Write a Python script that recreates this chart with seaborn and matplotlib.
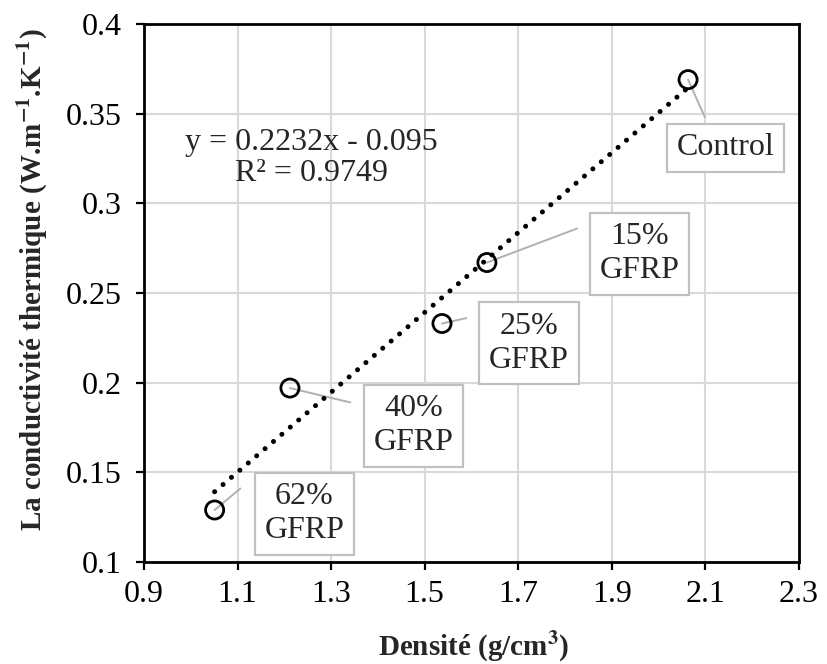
import numpy as np
import pandas as pd
import matplotlib
matplotlib.use("Agg")
import matplotlib.pyplot as plt
import seaborn as sns

# ---- data ----
labels = ["62%\nGFRP", "40%\nGFRP", "25%\nGFRP", "15%\nGFRP", "Control"]
density = [1.051, 1.212, 1.537, 1.633, 2.063]
conductivity = [0.129, 0.197, 0.233, 0.267, 0.369]
# label box centres and leader-line ends (data coords)
label_x = [1.243, 1.477, 1.723, 1.960, 2.144]
label_y = [0.127, 0.176, 0.222, 0.272, 0.331]
lead_x = [1.106, 1.341, 1.589, 1.826, 2.099]
lead_y = [0.141, 0.189, 0.236, 0.286, 0.348]
x_ticks = [0.9, 1.1, 1.3, 1.5, 1.7, 1.9, 2.1, 2.3]
y_ticks = [0.1, 0.15, 0.2, 0.25, 0.3, 0.35, 0.4]
x_tick_labels = ["0.9", "1.1", "1.3", "1.5", "1.7", "1.9", "2.1", "2.3"]
y_tick_labels = ["0.1", "0.15", "0.2", "0.25", "0.3", "0.35", "0.4"]
equation = "y = 0.2232x - 0.095\nR\u00b2 = 0.9749"

df = pd.DataFrame({"density": density, "k": conductivity, "label": labels})

sns.set_theme(style="white")
plt.rcParams["font.family"] = ["Liberation Serif", "DejaVu Serif"]
plt.rcParams["mathtext.fontset"] = "stix"

fig = plt.figure(figsize=(8.28, 6.64), dpi=100)
ax = fig.add_axes([0.1739, 0.1536, 0.791, 0.8102])

# trend line
sns.regplot(data=df, x="density", y="k", ax=ax, scatter=False, ci=None,
            truncate=True,
            line_kws=dict(color="black", lw=3.6, linestyle=(0, (0.01, 2.2)),
                          dash_capstyle="round", zorder=3))

# leader lines
for px, py, lx, ly in zip(density, conductivity, lead_x, lead_y):
    ax.annotate("", xy=(px, py), xytext=(lx, ly),
                arrowprops=dict(arrowstyle="-", color="#b0b0b0", lw=1.4,
                                shrinkA=0, shrinkB=0), zorder=2)

# points
sns.scatterplot(data=df, x="density", y="k", ax=ax, marker="o", s=170,
                facecolor="none", edgecolor="black", linewidth=2.0, zorder=4)

# label boxes
for t, lx, ly in zip(labels, label_x, label_y):
    ax.text(lx, ly, t, ha="center", va="center", fontsize=23,
            linespacing=1.22, zorder=5,
            bbox=dict(boxstyle="square,pad=0.3", fc="white", ec="#c0c0c0", lw=1.6))

ax.text(1.257, 0.3255, equation, ha="center", va="center", fontsize=23,
        multialignment="center", linespacing=1.1, zorder=5)

ax.set_xlim(0.9, 2.3)
ax.set_ylim(0.1, 0.4)
ax.set_xticks(x_ticks)
ax.set_xticklabels(x_tick_labels)
ax.set_yticks(y_ticks)
ax.set_yticklabels(y_tick_labels)
ax.grid(True, color="#d9d9d9", lw=1.5)
ax.set_axisbelow(True)
for s in ax.spines.values():
    s.set_color("black")
    s.set_linewidth(2.0)
ax.tick_params(axis="both", which="major", direction="out", length=6, width=1.6,
               colors="black", labelsize=23, left=True, bottom=True)
ax.tick_params(axis="y", pad=10)
ax.tick_params(axis="x", pad=7)

ax.set_xlabel("Densit\u00e9 (g/cm$^\\mathbf{3}$)", fontsize=21, fontweight="bold",
              va="center")
ax.xaxis.set_label_coords(0.504, -0.158)
ax.set_ylabel("La conductivit\u00e9 thermique (W.m$^{\\mathbf{-1}}$.K$^{\\mathbf{-1}}$)",
              fontsize=21, fontweight="bold", va="center")
ax.yaxis.set_label_coords(-0.1695, 0.524)

fig.savefig("out.png", dpi=100)
